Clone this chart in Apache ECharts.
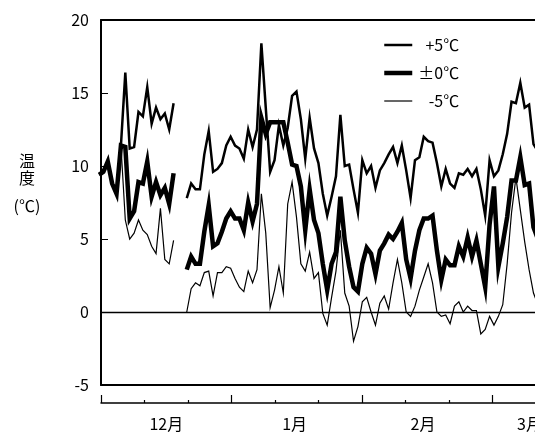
<!DOCTYPE html>
<html><head><meta charset="utf-8">
<script src="https://cdn.jsdelivr.net/npm/echarts@6/dist/echarts.min.js"></script>
<style>html,body{margin:0;padding:0;background:#fff}#c{width:535px;height:432px}</style>
</head><body><div id="c"></div>
<script>
const FONT = '"Noto Sans CJK JP", "Noto Sans", sans-serif';
const seriesNames = ['+5℃', '±0℃', '-5℃'];
const N = null;
const plus5 = [
  9.4, 9.6, 10.3, 8.8, 8.1, 11.4, 16.4, 11.2, 11.3, 13.7, 13.4, 15.4, 12.9, 14.0, 13.2, 13.6, 12.5, 14.3,
  N, N,
  7.8, 8.8, 8.4, 8.4, 10.8, 12.4, 9.6, 9.8, 10.2, 11.4, 12.0, 11.4, 11.2, 10.5, 12.5,
  11.3, 12.5, 18.4, 14.0, 9.6, 10.4, 12.8, 11.4, 12.6, 14.8, 15.1, 13.2, 10.5, 13.3, 11.2, 10.2,
  8.1, 6.6, 7.9, 9.3, 13.5, 10.0, 10.1, 8.4, 6.8, 10.4, 9.5, 10.0, 8.5, 9.7, 10.2, 10.8,
  11.3, 10.2, 11.4, 9.7, 7.8, 10.4, 10.6, 12.0, 11.7, 11.6, 10.2, 8.6, 9.8, 8.8, 8.5, 9.5,
  9.4, 9.8, 9.3, 9.8, 8.4, 6.6, 10.4, 9.3, 9.7, 10.8, 12.2, 14.4, 14.3, 15.7, 14.0, 14.2, 11.5, 11.0
];
const zero = [
  9.4, 9.6, 10.3, 8.8, 8.1, 11.4, 11.3, 6.4, 6.9, 8.9, 8.8, 10.3, 7.9, 8.9, 8.0, 8.5, 7.4, 9.5,
  N, N,
  2.9, 3.8, 3.3, 3.3, 5.5, 7.3, 4.5, 4.7, 5.5, 6.4, 6.9, 6.4, 6.4, 5.6, 7.5,
  6.2, 7.4, 13.3, 12.2, 13.0, 13.0, 13.0, 13.0, 11.6, 10.1, 10.0, 8.6, 5.6, 8.4, 6.3, 5.4,
  3.3, 1.5, 3.3, 4.1, 7.9, 4.9, 3.1, 1.7, 1.4, 3.3, 4.4, 4.0, 2.6, 4.2, 4.7, 5.3,
  5.0, 5.5, 6.1, 3.6, 2.3, 4.2, 5.6, 6.4, 6.4, 6.6, 4.2, 2.2, 3.6, 3.2, 3.2, 4.5,
  3.8, 5.1, 3.8, 4.9, 3.3, 1.7, 6.0, 8.6, 3.1, 4.7, 6.5, 9.0, 9.0, 10.6, 8.7, 8.8, 5.8, 5.0
];
const minus5 = [
  9.4, 9.6, 10.3, 8.8, 8.1, 11.4, 6.3, 5.0, 5.4, 6.3, 5.6, 5.3, 4.5, 4.0, 7.1, 3.6, 3.3, 4.9,
  N, N,
  0.0, 1.6, 2.0, 1.8, 2.7, 2.8, 1.1, 2.7, 2.7, 3.1, 3.0, 2.3, 1.7, 1.4, 2.8,
  2.0, 2.9, 8.1, 5.4, 0.3, 1.5, 3.1, 1.3, 7.4, 8.9, 6.5, 3.3, 2.8, 4.1, 2.3, 2.7,
  -0.1, -0.9, 1.0, 2.8, 5.6, 1.3, 0.4, -2.0, -1.0, 0.7, 1.0, 0.0, -0.9, 0.6, 1.1, 0.2,
  2.0, 3.6, 2.0, 0.0, -0.3, 0.4, 1.5, 2.4, 3.3, 2.0, 0.0, -0.3, -0.2, -0.8, 0.4, 0.7,
  0.0, 0.4, 0.1, 0.1, -1.5, -1.2, -0.3, -0.9, -0.3, 0.5, 3.3, 6.8, 9.2, 7.0, 4.8, 2.9, 1.3, 0.5
];
const yMin = -5, yMax = 20, yStep = 5;
// month axis in 10-day units (3 per month)
const monthLabels = ['12月', '1月', '2月', '3月'];
const monthLabelPos = [1.5, 4.45, 7.4, 9.85];

function pairs(arr) { return arr.map((v, i) => [i, v === null ? '-' : v]); }

const chart = echarts.init(document.getElementById('c'), null, { renderer: 'canvas' });
const lineSeries = (name, arr, w, extra) => Object.assign({
  name: name, type: 'line', data: pairs(arr), xAxisIndex: 0, yAxisIndex: 0,
  symbol: 'none', showSymbol: false, connectNulls: false, animation: false,
  lineStyle: { color: '#000', width: w, join: 'miter' }, itemStyle: { color: '#000' }
}, extra || {});

chart.setOption({
  animation: false,
  backgroundColor: '#fff',
  textStyle: { fontFamily: FONT },
  title: {
    text: '{a|温}\n{a|度}\n{b|(℃)}',
    left: 5, top: 147,
    textStyle: {
      fontWeight: 'normal',
      rich: {
        a: { fontFamily: FONT, fontSize: 16, fontWeight: 'normal', lineHeight: 17, width: 34, align: 'center', color: '#000' },
        b: { fontFamily: FONT, fontSize: 16, fontWeight: 'normal', lineHeight: 40, width: 34, align: 'center', color: '#000' }
      }
    }
  },
  legend: {
    orient: 'vertical', left: 377, top: 32,
    itemWidth: 28, itemHeight: 14, itemGap: 12,
    data: seriesNames,
    itemStyle: { opacity: 0 },
    lineStyle: { width: 'inherit' },
    formatter: n => '{r|' + n + '}',
    textStyle: { rich: { r: { width: 42, align: 'right', fontSize: 16, lineHeight: 14, color: '#000', fontFamily: FONT } } }
  },
  grid: { left: 101, right: -45, top: 20, bottom: 47, containLabel: false, outerBoundsMode: 'none' },
  xAxis: [
    { type: 'value', position: 'bottom', min: 0.46, max: 109.6,
      axisLine: { show: true, onZero: false, lineStyle: { color: '#000', width: 2 } },
      axisTick: { show: false }, axisLabel: { show: false }, splitLine: { show: false } },
    { type: 'value', position: 'top', min: 0.46, max: 109.6,
      axisLine: { show: true, onZero: false, lineStyle: { color: '#000', width: 2 } },
      axisTick: { show: false }, axisLabel: { show: false }, splitLine: { show: false } },
    { type: 'value', position: 'bottom', offset: 18, min: 0, max: 11.01, interval: 3,
      axisLine: { show: true, onZero: false, lineStyle: { color: '#000', width: 1.5 } },
      axisTick: { show: true, inside: true, length: 8, lineStyle: { color: '#000', width: 1.2 } },
      minorTick: { show: true, splitNumber: 3, length: 3, lineStyle: { color: '#000', width: 1.2 } },
      axisLabel: {
        show: true, customValues: monthLabelPos, margin: 13, fontSize: 16, color: '#000', fontFamily: FONT,
        formatter: v => { const k = monthLabelPos.findIndex(p => Math.abs(p - v) < 1e-6); return k >= 0 ? monthLabels[k] : ''; }
      },
      splitLine: { show: false } }
  ],
  yAxis: {
    type: 'value', min: yMin, max: yMax, interval: yStep,
    axisLine: { show: true, onZero: false, lineStyle: { color: '#000', width: 2 } },
    axisTick: { show: true, inside: true, length: 7, lineStyle: { color: '#000', width: 1 } },
    axisLabel: { fontSize: 16, color: '#000', margin: 12, fontFamily: FONT },
    splitLine: { show: false }
  },
  series: [
    lineSeries(seriesNames[0], plus5, 2.5),
    lineSeries(seriesNames[1], zero, 4.5, {
      markLine: { silent: true, symbol: 'none', label: { show: false },
        lineStyle: { color: '#000', type: 'solid', width: 1.3 }, data: [{ yAxis: 0 }], animation: false }
    }),
    lineSeries(seriesNames[2], minus5, 1.2)
  ]
});
</script></body></html>
